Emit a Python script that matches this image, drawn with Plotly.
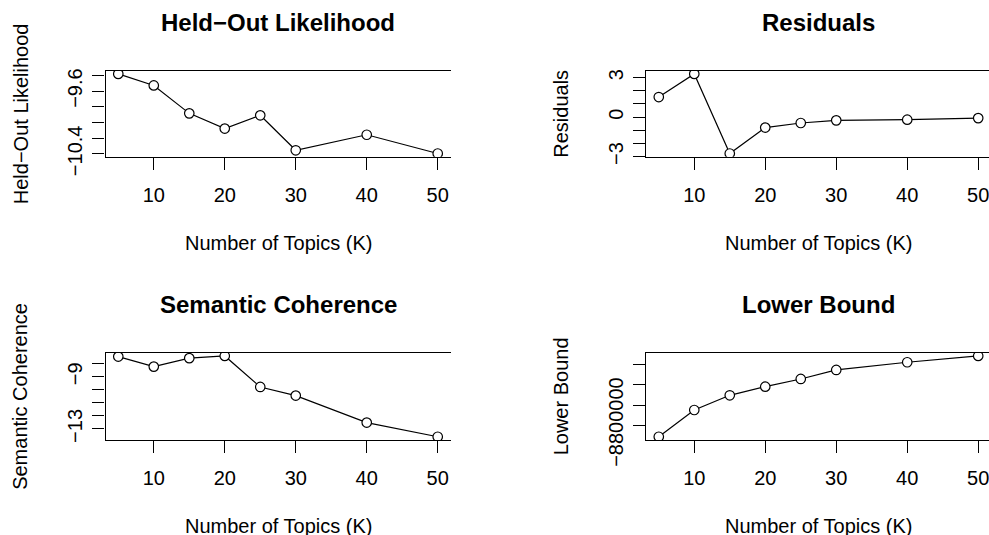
import plotly.graph_objects as go

K = [5, 10, 15, 20, 25, 30, 40, 50]
heldout = [-9.381, -9.528, -9.884, -10.078, -9.909, -10.355, -10.157, -10.396]
residuals = [1.52, 3.28, -2.77, -0.80, -0.45, -0.25, -0.20, -0.08]
semcoh = [-7.45, -8.22, -7.57, -7.40, -9.78, -10.44, -12.51, -13.60]
lbound = [-8829250, -8762500, -8725750, -8704250, -8685000, -8662500, -8643250, -8627500]

titles = ["Held−Out Likelihood", "Residuals", "Semantic Coherence", "Lower Bound"]
ylabels = ["Held−Out Likelihood", "Residuals", "Semantic Coherence", "Lower Bound"]
xlabel = "Number of Topics (K)"
xticks = [10, 20, 30, 40, 50]
yticks = [
    [-10.4, -10.2, -10.0, -9.8, -9.6, -9.4],
    [-3, -2, -1, 0, 1, 2, 3],
    [-13, -12, -11, -10, -9, -8],
    [-8800000, -8750000, -8700000, -8650000],
]
yticktext = [
    ["−10.4", "", "", "", "−9.6", ""],
    ["−3", "", "", "0", "", "", "3"],
    ["−13", "", "", "", "−9", ""],
    ["−8800000", "", "", ""],
]
series = [heldout, residuals, semcoh, lbound]

W, H = 989, 535
FONT = "Liberation Sans, Arial, Helvetica, sans-serif"

# panel boxes in pixels: (left, right, top, bottom)
boxes = [
    (105.5, 450.5, 70.7, 156.7),
    (646.0, 989.0, 70.7, 156.7),
    (105.5, 450.5, 352.7, 440.0),
    (646.0, 989.0, 352.7, 440.0),
]
xranges = [[3.2, 51.8], [3.2, 51.52], [3.2, 51.8], [3.2, 51.52]]

def px(x):
    return x / W

def py(y):
    return 1 - y / H

fig = go.Figure()
layout = dict(
    width=W, height=H,
    margin=dict(l=0, r=0, t=0, b=0, pad=0),
    paper_bgcolor="white", plot_bgcolor="white",
    showlegend=False,
    font=dict(family=FONT, size=20, color="black"),
)
annotations = []

for i in range(4):
    n = "" if i == 0 else str(i + 1)
    xa, ya = "x" + n, "y" + n
    l, r, t, b = boxes[i]
    vals = series[i]
    span = max(vals) - min(vals)
    yr = [min(vals) - 0.04 * span, max(vals) + 0.04 * span]
    fig.add_trace(go.Scatter(
        x=K, y=vals, xaxis=xa, yaxis=ya, mode="lines+markers",
        line=dict(color="black", width=1.2),
        marker=dict(symbol="circle", size=9.5, color="white",
                    line=dict(color="black", width=1.2)),
        cliponaxis=True,
    ))
    layout["xaxis" + n] = dict(
        domain=[px(l), px(r)], range=xranges[i], anchor=ya, automargin=False,
        showgrid=False, zeroline=False,
        showline=True, mirror=True, linecolor="black", linewidth=1.2,
        ticks="outside", ticklen=12, tickwidth=1.2, tickcolor="black",
        tickvals=xticks, ticktext=[str(v) for v in xticks],
        tickfont=dict(size=20, family=FONT, color="black"),
        ticklabelstandoff=8, ticklabeloverflow="allow",
    )
    layout["yaxis" + n] = dict(
        domain=[py(b), py(t)], range=yr, anchor=xa, automargin=False,
        showgrid=False, zeroline=False,
        showline=True, mirror=False, linecolor="black", linewidth=1.2,
        ticks="outside", ticklen=12, tickwidth=1.2, tickcolor="black",
        tickvals=yticks[i], ticktext=yticktext[i], tickangle=-90,
        tickfont=dict(size=20, family=FONT, color="black"),
        ticklabelstandoff=2, ticklabeloverflow="allow",
    )
    cx = (l + (r if i % 2 == 0 else 990.5)) / 2
    annotations.append(dict(
        text="<b>" + titles[i] + "</b>", x=px(cx), y=py(t - 48.7),
        xref="paper", yref="paper", xanchor="center", yanchor="middle",
        showarrow=False, font=dict(size=24, family=FONT, color="black"),
    ))
    annotations.append(dict(
        text=xlabel, x=px(cx), y=py(b + 85.8),
        xref="paper", yref="paper", xanchor="center", yanchor="middle",
        showarrow=False, font=dict(size=20, family=FONT, color="black"),
    ))
    annotations.append(dict(
        text=ylabels[i], x=px(l - 85), y=py((t + b) / 2),
        xref="paper", yref="paper", xanchor="center", yanchor="middle",
        textangle=-90,
        showarrow=False, font=dict(size=20, family=FONT, color="black"),
    ))

layout["annotations"] = annotations
fig.update_layout(**layout)
fig.write_html(
    "out.html",
    config={"displayModeBar": False},
    post_script="document.body.style.margin='0px';document.body.style.overflow='hidden';",
)
